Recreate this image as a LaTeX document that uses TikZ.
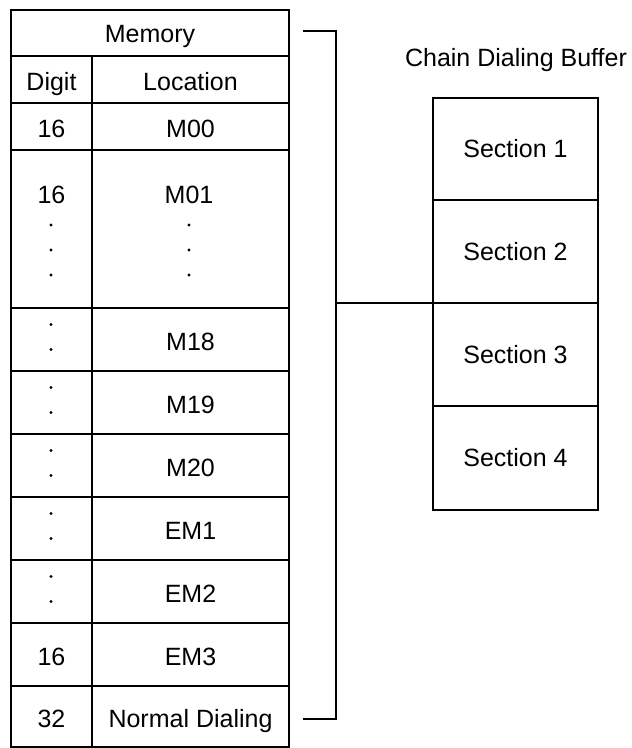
\documentclass[tikz,border=0pt]{standalone}
\usepackage{fontspec}
\setmainfont{Liberation Sans}
\begin{document}
\begin{tikzpicture}[x=1pt,y=-1pt,
  cell/.style={draw, line width=1.6pt, inner sep=0pt, outer sep=0pt, font=\fontsize{25}{29}\selectfont, text height=21.5pt, text depth=0pt},
  sect/.style={draw, line width=1.6pt, inner sep=0pt, outer sep=0pt, font=\fontsize{25}{29}\selectfont, text height=17.9pt, text depth=0pt},
  lbl/.style={inner sep=0pt, font=\fontsize{25}{29}\selectfont, text height=17.9pt, text depth=0pt},
  wire/.style={line width=1.6pt},
  dot/.style={fill=black}]
\useasboundingbox (0,0) rectangle (632,748);
% memory table
\node[cell, minimum width=278, minimum height=46, text height=19.5pt] (mem) at (150,33) {Memory};
\node[cell, minimum width=81, minimum height=47] (dig) at (51.5,79.5) {Digit};
\node[cell, minimum width=197, minimum height=47] (loc) at (190.5,79.5) {Location};
\node[cell, minimum width=81, minimum height=47] (d00) at (51.5,126.5) {16};
\node[cell, minimum width=197, minimum height=47] (m00) at (190.5,126.5) {M00};
\node[cell, minimum width=81, minimum height=158] (d01) at (51.5,229) {};
\node[cell, minimum width=197, minimum height=158] (m01) at (190.5,229) {};
\node[lbl] (t16) at (51.5,195) {16};
\node[lbl] (tm01) at (189,195) {M01};
\foreach \yy in {225,250,275} {
  \fill[dot] (51,\yy) circle (1.6);
  \fill[dot] (189,\yy) circle (1.6);
}
\foreach \nm/\cy/\txt in {18/339.5/M18, 19/402.5/M19, 20/465.5/M20, e1/528.5/EM1, e2/591.5/EM2} {
  \node[cell, minimum width=81, minimum height=63] (d\nm) at (51.5,\cy) {};
  \node[cell, minimum width=197, minimum height=63] (m\nm) at (190.5,\cy) {\txt};
  \fill[dot] (51,\cy-15) circle (1.6);
  \fill[dot] (51,\cy+10) circle (1.6);
}
\node[cell, minimum width=81, minimum height=63] (de3) at (51.5,654.5) {16};
\node[cell, minimum width=197, minimum height=63] (me3) at (190.5,654.5) {EM3};
\node[cell, minimum width=81, minimum height=61] (dnd) at (51.5,716.5) {32};
\node[cell, minimum width=197, minimum height=61] (mnd) at (190.5,716.5) {Normal Dialing};
% chain dialing buffer
\node[lbl] (title) at (516,57.5) {Chain Dialing Buffer};
\node[sect, minimum width=165, minimum height=102] (s1) at (515.5,149) {Section 1};
\node[sect, minimum width=165, minimum height=103] (s2) at (515.5,251.5) {Section 2};
\node[sect, minimum width=165, minimum height=103] (s3) at (515.5,354.5) {Section 3};
\node[sect, minimum width=165, minimum height=104] (s4) at (515.5,458) {Section 4};
% bracket
\coordinate (btop) at (303,31);
\coordinate (bbot) at (303,719);
\coordinate (ctop) at (336,31);
\coordinate (cbot) at (336,719);
\coordinate (cmid) at (336,303);
\draw[wire] (btop) -- (ctop) -- (cbot) -- (bbot);
\draw[wire] (cmid) -- (s2.south west);
\end{tikzpicture}
\end{document}
